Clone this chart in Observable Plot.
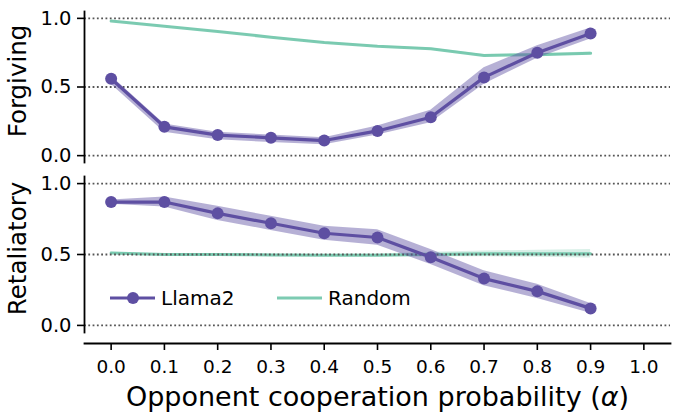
<!DOCTYPE html>
<html><head><meta charset="utf-8">
<script src="https://cdn.jsdelivr.net/npm/d3@7"></script>
<script src="https://cdn.jsdelivr.net/npm/@observablehq/plot@0.6"></script>
<style>
body{margin:0;background:#fff;}
#chart{position:relative;width:680px;height:416px;font-family:"DejaVu Sans";background:#fff;overflow:hidden;}
#chart svg{display:block;}
.item{position:absolute;top:288px;height:20px;display:flex;align-items:center;font:20px/20px "DejaVu Sans";color:#000;}
.item svg{margin-right:6px;}
</style></head><body><div id="chart"></div><script>
const alphas = [0.0, 0.1, 0.2, 0.3, 0.4, 0.5, 0.6, 0.7, 0.8, 0.9];
const xTicks = [0.0, 0.1, 0.2, 0.3, 0.4, 0.5, 0.6, 0.7, 0.8, 0.9, 1.0];
const yTicks = [0.0, 0.5, 1.0];

const forgivingLlama   = [0.56, 0.21, 0.15, 0.13, 0.11, 0.18, 0.28, 0.57, 0.75, 0.89];
const forgivingLlamaLo = [0.52, 0.17, 0.115, 0.095, 0.08, 0.15, 0.24, 0.52, 0.71, 0.85];
const forgivingLlamaHi = [0.58, 0.23, 0.17, 0.15, 0.13, 0.215, 0.33, 0.64, 0.80, 0.93];
const forgivingRandom   = [0.98, 0.943, 0.904, 0.863, 0.824, 0.797, 0.779, 0.73, 0.735, 0.745];
const forgivingRandomLo = [0.977, 0.94, 0.901, 0.86, 0.821, 0.793, 0.774, 0.724, 0.726, 0.735];
const forgivingRandomHi = [0.983, 0.946, 0.907, 0.866, 0.827, 0.801, 0.784, 0.736, 0.744, 0.755];

const retaliatoryLlama   = [0.87, 0.87, 0.79, 0.72, 0.65, 0.62, 0.48, 0.33, 0.24, 0.12];
const retaliatoryLlamaLo = [0.855, 0.835, 0.74, 0.67, 0.60, 0.565, 0.43, 0.28, 0.19, 0.085];
const retaliatoryLlamaHi = [0.885, 0.905, 0.84, 0.77, 0.70, 0.675, 0.535, 0.385, 0.29, 0.155];
const retaliatoryRandom   = [0.51, 0.50, 0.50, 0.497, 0.495, 0.495, 0.50, 0.505, 0.505, 0.505];
const retaliatoryRandomLo = [0.505, 0.495, 0.495, 0.492, 0.49, 0.487, 0.485, 0.485, 0.48, 0.475];
const retaliatoryRandomHi = [0.515, 0.505, 0.505, 0.502, 0.50, 0.503, 0.515, 0.525, 0.53, 0.535];

const seriesNames = ["Llama2", "Random"];
const panelLabels = ["Forgiving", "Retaliatory"];
const xLabel = "Opponent cooperation probability (α)";

const PURPLE = "#5e4fa2", TEAL = "#66c2a5";

function rows(v, lo, hi) { return alphas.map((x, i) => ({x, y: v[i], lo: lo[i], hi: hi[i]})); }

function panelMarks(llama, random, label) {
  return [
    Plot.areaY(random, {x: "x", y1: "lo", y2: "hi", fill: TEAL, fillOpacity: 0.25}),
    Plot.line(random, {x: "x", y: "y", stroke: TEAL, strokeOpacity: 0.85, strokeWidth: 3}),
    Plot.ruleY(yTicks, {stroke: "#555", strokeWidth: 1.8, strokeDasharray: "1.8,2.5"}),
    Plot.areaY(llama, {x: "x", y1: "lo", y2: "hi", fill: PURPLE, fillOpacity: 0.45}),
    Plot.line(llama, {x: "x", y: "y", stroke: PURPLE, strokeWidth: 3.2}),
    Plot.dot(llama, {x: "x", y: "y", fill: PURPLE, r: 6}),
    Plot.axisY({ticks: yTicks, tickFormat: d => d.toFixed(1), tickSize: 7, tickPadding: 6, fontSize: 19.5, strokeWidth: 1.6, label: null}),
    Plot.frame({anchor: "left", strokeWidth: 1.8}),
    Plot.text([label], {frameAnchor: "left", rotate: -90, dx: -76, dy: -6, lineAnchor: "top", textAnchor: "middle", fontSize: 24.5, fill: "black"})
  ];
}

const common = {
  width: 680, marginLeft: 84, marginRight: 10,
  x: {domain: [-0.05, 1.05]},
  y: {domain: [-0.05, 1.05]},
  style: {fontFamily: "DejaVu Sans", background: "white", color: "black", overflow: "visible"}
};

const topPlot = Plot.plot({
  ...common, height: 170, marginTop: 11, marginBottom: 8,
  x: {...common.x, axis: null},
  marks: panelMarks(rows(forgivingLlama, forgivingLlamaLo, forgivingLlamaHi),
                    rows(forgivingRandom, forgivingRandomLo, forgivingRandomHi), panelLabels[0])
});

const bottomPlot = Plot.plot({
  ...common, height: 246, marginTop: 6, marginBottom: 84,
  marks: [
    ...panelMarks(rows(retaliatoryLlama, retaliatoryLlamaLo, retaliatoryLlamaHi),
                  rows(retaliatoryRandom, retaliatoryRandomLo, retaliatoryRandomHi), panelLabels[1]),
    Plot.axisX({ticks: xTicks, tickFormat: d => d.toFixed(1), tickSize: 7, tickPadding: 9, fontSize: 18.5, strokeWidth: 1.6, dy: 11, label: null}),
    Plot.frame({anchor: "bottom", dy: 11, strokeWidth: 1.8}),
    Plot.text([xLabel], {frameAnchor: "bottom", dy: 73, lineAnchor: "bottom", textAnchor: "middle", fontSize: 27, fill: "black"})
  ]
});

const chart = document.getElementById("chart");
chart.appendChild(topPlot);
chart.appendChild(bottomPlot);

// italic alpha as in matplotlib mathtext
bottomPlot.querySelectorAll("text").forEach(t => {
  if (t.textContent === xLabel) {
    const parts = xLabel.split("α");
    t.textContent = "";
    const ns = "http://www.w3.org/2000/svg";
    const a = document.createElementNS(ns, "tspan"); a.textContent = parts[0];
    const b = document.createElementNS(ns, "tspan"); b.textContent = "α"; b.setAttribute("font-style", "italic");
    const c = document.createElementNS(ns, "tspan"); c.textContent = parts[1];
    t.append(a, b, c);
  }
});

// legend
function item(left, name, color, withDot, opacity) {
  const d = document.createElement("div");
  d.className = "item"; d.style.left = left + "px";
  d.innerHTML = `<svg width="45" height="20"><line x1="0" x2="45" y1="10" y2="10" stroke="${color}" stroke-opacity="${opacity}" stroke-width="3.2"/>` +
    (withDot ? `<circle cx="23" cy="10" r="6" fill="${color}"/>` : "") + `</svg><span>${name}</span>`;
  chart.appendChild(d);
}
item(110, seriesNames[0], PURPLE, true, 1);
item(277, seriesNames[1], TEAL, false, 0.85);
</script></body></html>
